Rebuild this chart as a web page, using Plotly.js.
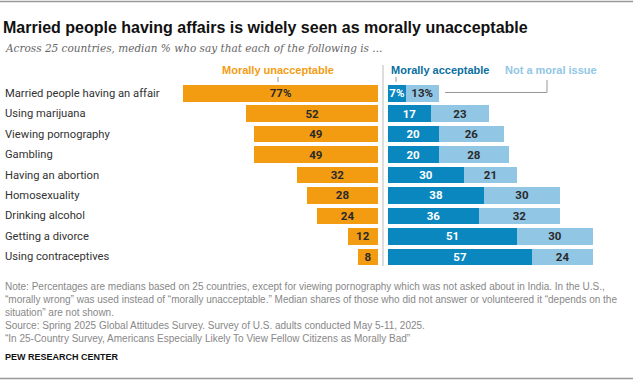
<!DOCTYPE html>
<html>
<head>
<meta charset="utf-8">
<script src="https://cdn.plot.ly/plotly-3.0.1.min.js"></script>
<style>html,body{margin:0;padding:0;background:#fff;}#chart{width:640px;height:382px;}</style>
</head>
<body>
<div id="chart"></div>
<script>
const categories = [
  "Married people having an affair",
  "Using marijuana",
  "Viewing pornography",
  "Gambling",
  "Having an abortion",
  "Homosexuality",
  "Drinking alcohol",
  "Getting a divorce",
  "Using contraceptives"
];
const unacceptable = [77, 52, 49, 49, 32, 28, 24, 12, 8];
const acceptable   = [7, 17, 20, 20, 30, 38, 36, 51, 57];
const notMoral     = [13, 23, 26, 28, 21, 30, 32, 30, 24];

const seriesNames = ["Morally unacceptable", "Morally acceptable", "Not a moral issue"];
const titleText = "Married people having affairs is widely seen as morally unacceptable";
const subtitleText = "Across 25 countries, median % who say that each of the following is ...";
const noteLines = [
  "Note: Percentages are medians based on 25 countries, except for viewing pornography which was not asked about in India. In the U.S.,",
  "\u201cmorally wrong\u201d was used instead of \u201cmorally unacceptable.\u201d Median shares of those who did not answer or volunteered it \u201cdepends on the",
  "situation\u201d are not shown.",
  "Source: Spring 2025 Global Attitudes Survey. Survey of U.S. adults conducted May 5-11, 2025.",
  "\u201cIn 25-Country Survey, Americans Especially Likely To View Fellow Citizens as Morally Bad\u201d"
];
const sourceLabel = "PEW RESEARCH CENTER";

const ORANGE = "#F39C12", DBLUE = "#0B87BF", LBLUE = "#92C6E5";
const W = 640, PT = 83, PB = 267;
const px = p => p / W;
const py = p => (PB - p) / (PB - PT);
const pct = (arr) => arr.map((v, i) => i === 0 ? v + "%" : String(v));

const SANS = "Liberation Sans, Arial, sans-serif";
const barFont = {family: "Roboto, Arial, sans-serif", size: 11.5, weight: 700};

const traces = [
  {type: "bar", orientation: "h", y: categories, x: unacceptable, xaxis: "x", yaxis: "y",
   name: seriesNames[0], marker: {color: ORANGE}, text: pct(unacceptable),
   textposition: "inside", insidetextanchor: "middle", textangle: 0, constraintext: "none",
   textfont: Object.assign({color: "#2a2a2a"}, barFont), hoverinfo: "skip"},
  {type: "bar", orientation: "h", y: categories, x: acceptable, xaxis: "x2", yaxis: "y",
   name: seriesNames[1], marker: {color: DBLUE}, text: pct(acceptable),
   textposition: "inside", insidetextanchor: "middle", textangle: 0, constraintext: "none",
   textfont: Object.assign({color: "#ffffff"}, barFont), hoverinfo: "skip"},
  {type: "bar", orientation: "h", y: categories, x: notMoral, xaxis: "x2", yaxis: "y",
   name: seriesNames[2], marker: {color: LBLUE}, text: pct(notMoral),
   textposition: "inside", insidetextanchor: "middle", textangle: 0, constraintext: "none",
   textfont: Object.assign({color: "#2a2a2a"}, barFont), hoverinfo: "skip"}
];

const SCALE = 2.53; // px per percentage point
const leftZero = 378, rightZero = 388;

const annotations = [];
categories.forEach((c, i) => {
  annotations.push({xref: "paper", yref: "y", x: px(3), y: c, xanchor: "left", yanchor: "middle",
    text: c, showarrow: false, font: {family: "Roboto, Arial, sans-serif", size: 11.2, color: "#333"}});
});
annotations.push({xref: "paper", yref: "paper", x: px(3), y: py(47.5), xanchor: "left", yanchor: "middle",
  text: "<i>" + subtitleText + "</i>", showarrow: false,
  font: {family: "DejaVu Serif, Georgia, serif", size: 10.5, color: "#666"}});
annotations.push({xref: "paper", yref: "paper", x: px(278), y: py(70), xanchor: "center", yanchor: "middle",
  text: "<b>" + seriesNames[0] + "</b>", showarrow: false,
  font: {family: SANS, size: 11, color: ORANGE}});
annotations.push({xref: "paper", yref: "paper", x: px(439.5), y: py(70), xanchor: "center", yanchor: "middle",
  text: "<b>" + seriesNames[1] + "</b>", showarrow: false,
  font: {family: SANS, size: 11, color: "#0A6E9E"}});
annotations.push({xref: "paper", yref: "paper", x: px(551), y: py(70), xanchor: "center", yanchor: "middle",
  text: "<b>" + seriesNames[2] + "</b>", showarrow: false,
  font: {family: SANS, size: 11, color: LBLUE}});
const noteY = [286, 299, 312, 325, 338];
noteLines.forEach((t, i) => {
  annotations.push({xref: "paper", yref: "paper", x: px(3), y: py(noteY[i]), xanchor: "left", yanchor: "middle",
    text: t, showarrow: false,
    font: {family: SANS, size: 10, color: "#888"}});
});
annotations.push({xref: "paper", yref: "paper", x: px(3), y: py(357), xanchor: "left", yanchor: "middle",
  text: "<b>" + sourceLabel + "</b>", showarrow: false,
  font: {family: SANS, size: 9, color: "#111"}});

const line = (x0, y0, x1, y1, color, w) => ({type: "line", xref: "paper", yref: "paper",
  x0: px(x0), x1: px(x1), y0: py(y0), y1: py(y1), line: {color: color, width: w}});

const shapes = [
  line(0, 1.5, 633, 1.5, "#999", 1.5),
  line(0, 378.5, 633, 378.5, "#999", 1.5),
  line(383, 65, 383, 266, "#bbb", 1),
  line(278, 77, 278, 82, "#999", 1),
  line(396, 77, 396, 82, "#999", 1),
  line(445, 92.5, 547, 92.5, "#999", 1),
  line(547, 92.5, 547, 80, "#999", 1)
];

const layout = {
  width: 640, height: 382,
  margin: {l: 0, r: 0, t: PT, b: 382 - PB, pad: 0},
  paper_bgcolor: "#fff", plot_bgcolor: "rgba(0,0,0,0)",
  showlegend: false,
  barmode: "stack",
  bargap: 0.19,
  title: {text: "<b>" + titleText + "</b>", x: px(3), xanchor: "left", xref: "paper",
    y: 1 - 27 / 382, yanchor: "middle", yref: "container",
    font: {family: SANS, size: 16, color: "#111"}},
  xaxis: {domain: [0, px(leftZero)], range: [leftZero / SCALE, 0], visible: false, fixedrange: true},
  xaxis2: {domain: [px(rightZero), 1], range: [0, (W - rightZero) / SCALE], visible: false, fixedrange: true},
  yaxis: {type: "category", autorange: false, range: [categories.length - 0.5, -0.5], visible: false},
  annotations: annotations,
  shapes: shapes
};

Plotly.newPlot("chart", traces, layout, {staticPlot: true, displayModeBar: false});
</script>
</body>
</html>
